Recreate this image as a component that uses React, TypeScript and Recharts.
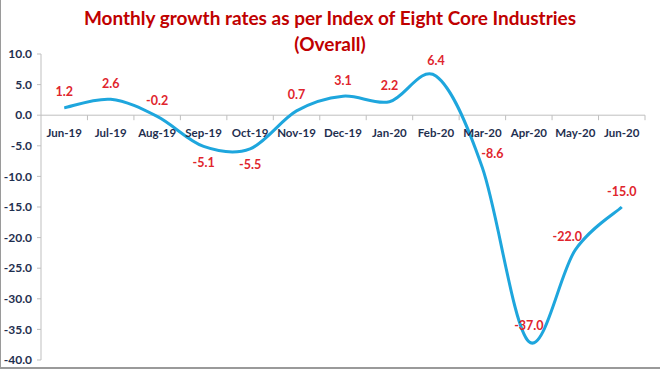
import React from 'react';
import { LineChart, Line, XAxis, YAxis, ReferenceLine, LabelList } from 'recharts';

const months = ['Jun-19', 'Jul-19', 'Aug-19', 'Sep-19', 'Oct-19', 'Nov-19', 'Dec-19', 'Jan-20', 'Feb-20', 'Mar-20', 'Apr-20', 'May-20', 'Jun-20'];
const growth = [1.2, 2.6, -0.2, -5.1, -5.5, 0.7, 3.1, 2.2, 6.4, -8.6, -37.0, -22.0, -15.0];
const yTicks = [10, 5, 0, -5, -10, -15, -20, -25, -30, -35, -40];
// where each value label sits relative to its point
const labelSide = ['top', 'top', 'top', 'bottom', 'bottom', 'top', 'top', 'top', 'top', 'right', 'top', 'left', 'top'];

const W = 660;
const H = 369;
const M = { top: 54, right: 15, bottom: 9, left: 0 };
const Y_AXIS_W = 41;
const STEP = (W - M.left - M.right - Y_AXIS_W) / months.length;

const rows = months.map((m, i) => ({ month: m, growth: growth[i], base: 0 }));

const FONT = 'Lato, "Open Sans", sans-serif';
const NAVY = '#1f2f4f';
const RED = '#e0252d';
const GRID = '#bfbfbf';

// Excel-like smoothing (Catmull-Rom)
const smooth = (context: any) => {
  let pts: number[][] = [];
  return {
    areaStart() {},
    areaEnd() {},
    lineStart() {
      pts = [];
    },
    point(x: number, y: number) {
      pts.push([+x, +y]);
    },
    lineEnd() {
      if (!pts.length) return;
      context.moveTo(pts[0][0], pts[0][1]);
      for (let i = 0; i < pts.length - 1; i++) {
        const p0 = pts[i - 1] || pts[i];
        const p1 = pts[i];
        const p2 = pts[i + 1];
        const p3 = pts[i + 2] || p2;
        context.bezierCurveTo(
          p1[0] + (p2[0] - p0[0]) / 6,
          p1[1] + (p2[1] - p0[1]) / 6,
          p2[0] - (p3[0] - p1[0]) / 6,
          p2[1] - (p3[1] - p1[1]) / 6,
          p2[0],
          p2[1]
        );
      }
    },
  };
};

const ValueLabel = (props: any) => {
  const { x, y, value, index } = props;
  const side = labelSide[index];
  let dx = 0;
  let dy = -16;
  if (side === 'bottom') dy = 16;
  if (side === 'right') { dx = 10; dy = -14; }
  if (side === 'left') { dx = -8; dy = -13; }
  return (
    <text x={x + dx} y={y + dy} textAnchor="middle" dominantBaseline="central"
      fill={RED} fontFamily={FONT} fontWeight={700} fontSize={12.5}>
      {Number(value).toFixed(1)}
    </text>
  );
};

const MonthLabel = (props: any) => {
  const { x, y, value } = props;
  return (
    <g>
      <line x1={x + STEP / 2} x2={x + STEP / 2} y1={y} y2={y + 5} stroke={GRID} />
      <text x={x} y={y + 17} textAnchor="middle" dominantBaseline="central"
        fill={NAVY} fontFamily={FONT} fontWeight={700} fontSize={11.5}>
        {value}
      </text>
    </g>
  );
};

export default function App() {
  return (
    <div style={{ position: 'absolute', left: 0, top: 0, width: W, height: H, background: '#fff' }}>
      <div style={{
        position: 'absolute', left: 0, top: 5, width: W, textAlign: 'center',
        color: '#c00000', fontFamily: FONT, fontWeight: 700, fontSize: 19, lineHeight: '26px',
      }}>
        <div>Monthly growth rates as per Index of Eight Core Industries</div>
        <div>(Overall)</div>
      </div>
      <div style={{ position: 'absolute', left: 0, top: 0, width: W - 1, height: H - 2, borderLeft: '1px solid #9a9a9a', borderBottom: '2px solid #9a9a9a' }} />
      <LineChart width={W} height={H} data={rows} margin={M} style={{ position: 'absolute', left: 0, top: 0 }}>
        <XAxis dataKey="month" hide padding={{ left: STEP / 2, right: STEP / 2 }} />
        <YAxis
          width={Y_AXIS_W}
          domain={[-40, 10]}
          ticks={yTicks}
          interval={0}
          tickFormatter={(v: number) => v.toFixed(1)}
          axisLine={{ stroke: GRID }}
          tickLine={{ stroke: GRID }}
          tickSize={4}
          tickMargin={5}
          tick={{ fill: NAVY, fontFamily: FONT, fontWeight: 700, fontSize: 12 }}
        />
        <ReferenceLine y={0} stroke={GRID} />
        <Line dataKey="base" stroke="none" dot={false} activeDot={false} isAnimationActive={false}>
          <LabelList dataKey="month" content={MonthLabel} />
        </Line>
        <Line dataKey="growth" type={smooth as any} stroke="#1ea6dd" strokeWidth={3} dot={false} activeDot={false} isAnimationActive={false}>
          <LabelList dataKey="growth" content={ValueLabel} />
        </Line>
      </LineChart>
    </div>
  );
}
